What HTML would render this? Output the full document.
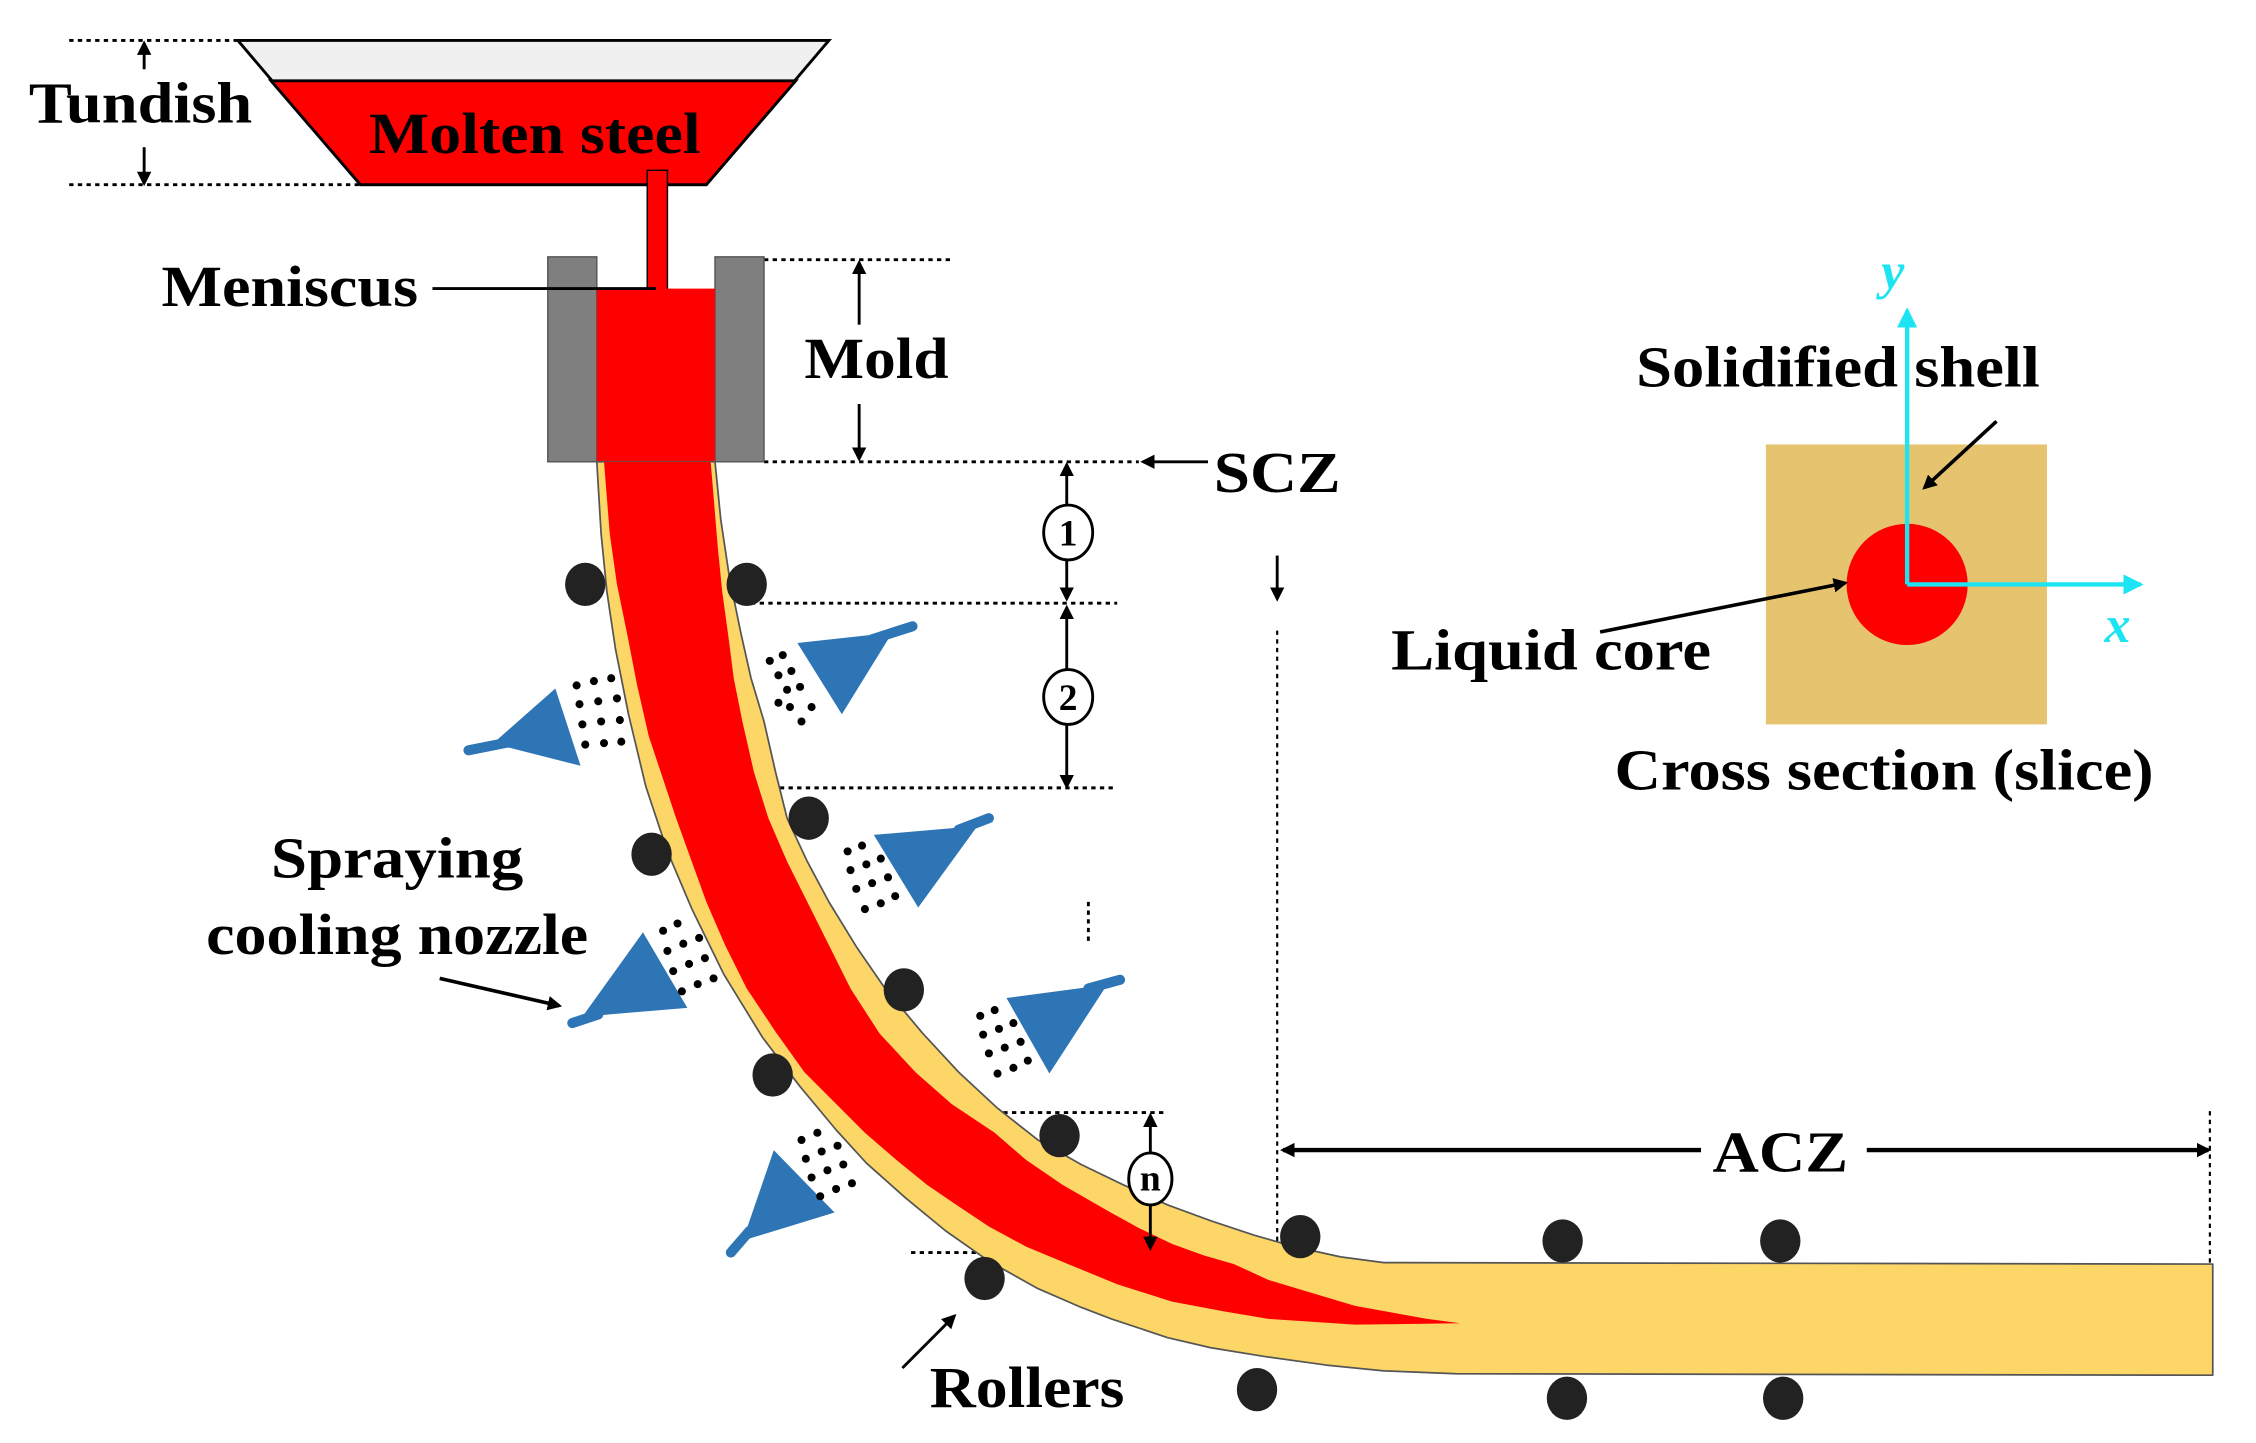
<!DOCTYPE html>
<html><head><meta charset="utf-8"><style>html,body{margin:0;padding:0;background:#fff}svg{display:block}text{font-family:"Liberation Serif",serif;font-weight:bold;fill:#000}</style></head>
<body>
<svg width="2256" height="1443" viewBox="0 0 1565 1000" preserveAspectRatio="none" xmlns="http://www.w3.org/2000/svg">
<defs>
<marker id="ah" markerWidth="10" markerHeight="10" refX="8" refY="5" orient="auto" markerUnits="userSpaceOnUse"><path d="M0,0 L10,5 L0,10 z" fill="#000"/></marker>
<marker id="ac" markerWidth="14" markerHeight="14" refX="12" refY="7" orient="auto" markerUnits="userSpaceOnUse"><path d="M0,0 L14,7 L0,14 z" fill="#1de4f2"/></marker>
</defs>
<g stroke="#000" stroke-width="2" stroke-dasharray="3,3" fill="none">
<line x1="48" y1="28" x2="165" y2="28"/><line x1="48" y1="128" x2="250" y2="128"/>
<line x1="530" y1="180" x2="660" y2="180"/><line x1="530" y1="320" x2="790" y2="320"/>
<line x1="515" y1="418" x2="775" y2="418"/><line x1="535" y1="546" x2="772" y2="546"/>
<line x1="690" y1="771" x2="808" y2="771"/><line x1="632" y1="868" x2="890" y2="868"/>
<line x1="886" y1="437" x2="886" y2="870" stroke-width="1.5"/>
<line x1="1533" y1="770" x2="1533" y2="875" stroke-width="1.5"/>
<line x1="755" y1="625" x2="755" y2="652" stroke-width="2"/>
</g>
<polygon points="165,28 575,28 490,128 250,128" fill="#f0f0f0" stroke="#000" stroke-width="2"/>
<polygon points="188,56 552,56 490,128 250,128" fill="#f00" stroke="#000" stroke-width="2"/>
<rect x="449" y="118" width="14" height="85" fill="#f00" stroke="#000" stroke-width="1"/>
<rect x="380" y="178" width="34" height="142" fill="#7f7f7f" stroke="#555" stroke-width="1"/>
<rect x="496" y="178" width="34" height="142" fill="#7f7f7f" stroke="#555" stroke-width="1"/>
<rect x="414" y="200" width="82" height="120" fill="#f00"/>
<!-- strand -->
<polygon points="414,320 417,370 421,410 427,450 436,495 448,545 463,590 480,630 502,675 529,719 555,753 580,783 601,806 628,830 656,853 686,874 720,893 750,906 771,914 810,927 840,934 877,940 920,946 960,950 1010,952 1535,953 1535,876 960,875 930,871 898,864 870,856 840,846 810,835 779,821 750,807 720,790 692,768 665,743 640,716 614,685 594,656 575,625 560,597 546,567 538,535 530,500 521,470 514,439 506,400 500,360 496,320" fill="#fcd667" stroke="#555" stroke-width="1.2" stroke-linejoin="round"/>
<polygon points="419,320 423,370 428,405 435,439 442,475 450,510 469,567 490,625 503,655 518,685 538,715 558,743 580,765 600,785 622,804 643,821 665,836 686,850 712,864 741,876 775,890 813,902 850,909 880,914 940,918 1013,917 990,914 940,905 900,893 880,887 856,876 835,870 813,862 790,851 770,840 737,821 712,804 690,785 660,765 635,743 610,716 590,685 575,655 560,625 546,597 533,567 523,535 515,500 509,470 505,439 501,410 498,380 493,320" fill="#f00"/>
<!-- rollers -->
<g fill="#222">
<ellipse cx="406" cy="405" rx="14" ry="15"/><ellipse cx="518" cy="405" rx="14" ry="15"/>
<ellipse cx="452" cy="592" rx="14" ry="15"/><ellipse cx="561" cy="567" rx="14" ry="15"/>
<ellipse cx="627" cy="686" rx="14" ry="15"/><ellipse cx="536" cy="745" rx="14" ry="15"/>
<ellipse cx="735" cy="787" rx="14" ry="15"/><ellipse cx="683" cy="886" rx="14" ry="15"/>
<ellipse cx="902" cy="857" rx="14" ry="15"/><ellipse cx="1084" cy="860" rx="14" ry="15"/>
<ellipse cx="1235" cy="860" rx="14" ry="15"/><ellipse cx="872" cy="963" rx="14" ry="15"/>
<ellipse cx="1087" cy="969" rx="14" ry="15"/><ellipse cx="1237" cy="969" rx="14" ry="15"/>
</g>
<!-- nozzles -->
<g fill="#2e75b6" stroke="#2e75b6" stroke-width="7" stroke-linecap="round">
<polygon points="554,446 618,439 584,494" stroke-width="1"/><line x1="605" y1="443" x2="633" y2="434"/>
<polygon points="385,478 402,530 343,515" stroke-width="1"/><line x1="355" y1="514" x2="325" y2="520"/>
<polygon points="607,579 677,573 637,628" stroke-width="1"/><line x1="665" y1="575" x2="686" y2="567"/>
<polygon points="699,692 767,683 728,743" stroke-width="1"/><line x1="755" y1="685" x2="777" y2="679"/>
<polygon points="446,647 476,698 405,704" stroke-width="1"/><line x1="415" y1="703" x2="397" y2="709"/>
<polygon points="537,798 578,840 516,859" stroke-width="1"/><line x1="520" y1="853" x2="507" y2="868"/>
</g>
<g fill="#000">
<circle cx="534" cy="458" r="2.8"/><circle cx="540" cy="468" r="2.8"/><circle cx="546" cy="478" r="2.8"/>
<circle cx="543" cy="454" r="2.8"/><circle cx="549" cy="465" r="2.8"/><circle cx="555" cy="476" r="2.8"/>
<circle cx="540" cy="487" r="2.8"/><circle cx="548" cy="490" r="2.8"/><circle cx="556" cy="500" r="2.8"/><circle cx="563" cy="490" r="2.8"/>
<circle cx="400" cy="475" r="2.8"/><circle cx="412" cy="472" r="2.8"/><circle cx="424" cy="470" r="2.8"/>
<circle cx="402" cy="488" r="2.8"/><circle cx="415" cy="486" r="2.8"/><circle cx="428" cy="484" r="2.8"/>
<circle cx="404" cy="502" r="2.8"/><circle cx="417" cy="500" r="2.8"/><circle cx="430" cy="499" r="2.8"/>
<circle cx="406" cy="516" r="2.8"/><circle cx="419" cy="515" r="2.8"/><circle cx="431" cy="514" r="2.8"/>
<circle cx="588" cy="590" r="2.8"/><circle cx="598" cy="586" r="2.8"/>
<circle cx="590" cy="603" r="2.8"/><circle cx="601" cy="599" r="2.8"/><circle cx="611" cy="595" r="2.8"/>
<circle cx="594" cy="616" r="2.8"/><circle cx="605" cy="612" r="2.8"/><circle cx="616" cy="608" r="2.8"/>
<circle cx="600" cy="630" r="2.8"/><circle cx="611" cy="626" r="2.8"/><circle cx="621" cy="621" r="2.8"/>
<circle cx="680" cy="704" r="2.8"/><circle cx="690" cy="700" r="2.8"/>
<circle cx="682" cy="717" r="2.8"/><circle cx="693" cy="713" r="2.8"/><circle cx="703" cy="709" r="2.8"/>
<circle cx="686" cy="730" r="2.8"/><circle cx="697" cy="726" r="2.8"/><circle cx="708" cy="722" r="2.8"/>
<circle cx="692" cy="744" r="2.8"/><circle cx="703" cy="740" r="2.8"/><circle cx="713" cy="735" r="2.8"/>
<circle cx="460" cy="645" r="2.8"/><circle cx="470" cy="640" r="2.8"/>
<circle cx="463" cy="659" r="2.8"/><circle cx="474" cy="654" r="2.8"/><circle cx="485" cy="650" r="2.8"/>
<circle cx="467" cy="673" r="2.8"/><circle cx="478" cy="668" r="2.8"/><circle cx="489" cy="664" r="2.8"/>
<circle cx="473" cy="687" r="2.8"/><circle cx="484" cy="682" r="2.8"/><circle cx="495" cy="678" r="2.8"/>
<circle cx="556" cy="790" r="2.8"/><circle cx="567" cy="785" r="2.8"/>
<circle cx="559" cy="803" r="2.8"/><circle cx="570" cy="798" r="2.8"/><circle cx="581" cy="794" r="2.8"/>
<circle cx="563" cy="816" r="2.8"/><circle cx="574" cy="811" r="2.8"/><circle cx="585" cy="807" r="2.8"/>
<circle cx="569" cy="829" r="2.8"/><circle cx="580" cy="824" r="2.8"/><circle cx="591" cy="820" r="2.8"/>
</g>
<!-- cross section -->
<rect x="1225" y="308" width="195" height="194" fill="#e6c36e"/>
<circle cx="1323" cy="405" r="42" fill="#f00"/>
<g stroke="#1de4f2" stroke-width="3" fill="none" marker-end="url(#ac)">
<line x1="1323" y1="405" x2="1323" y2="215"/><line x1="1323" y1="405" x2="1485" y2="405"/>
</g>
<text x="1305" y="200" font-size="36" font-style="italic" style="fill:#1de4f2">y</text>
<text x="1460" y="445" font-size="36" font-style="italic" style="fill:#1de4f2">x</text>
<g stroke="#000" stroke-width="2" fill="none" marker-end="url(#ah)">
<line x1="100" y1="48" x2="100" y2="30"/><line x1="100" y1="102" x2="100" y2="127"/>
<line x1="596" y1="225" x2="596" y2="182"/><line x1="596" y1="280" x2="596" y2="318"/>
<line x1="740" y1="350" x2="740" y2="322"/><line x1="740" y1="387" x2="740" y2="415"/>
<line x1="740" y1="464" x2="740" y2="421"/><line x1="740" y1="501" x2="740" y2="545"/>
<line x1="798" y1="800" x2="798" y2="773"/><line x1="798" y1="834" x2="798" y2="865"/>
<line x1="838" y1="320" x2="793" y2="320"/><line x1="886" y1="385" x2="886" y2="415"/>
<line x1="1180" y1="797" x2="890" y2="797" stroke-width="3"/><line x1="1295" y1="797" x2="1532" y2="797" stroke-width="3"/>
<line x1="626" y1="948" x2="662" y2="912"/><line x1="305" y1="678" x2="388" y2="697" stroke-width="2.5"/>
<line x1="1385" y1="292" x2="1335" y2="338" stroke-width="2.5"/><line x1="1110" y1="438" x2="1280" y2="404" stroke-width="2.5"/>
</g>
<line x1="300" y1="200" x2="455" y2="200" stroke="#000" stroke-width="2"/>
<g fill="#fff" stroke="#000" stroke-width="2">
<ellipse cx="741" cy="369" rx="17" ry="19"/><ellipse cx="741" cy="483" rx="17" ry="19"/><ellipse cx="798" cy="817" rx="15" ry="18"/>
</g>
<g font-size="26" text-anchor="middle">
<text x="741" y="378" font-weight="normal">1</text><text x="741" y="492" font-weight="normal">2</text><text x="798" y="825" font-weight="normal">n</text>
</g>
<g font-size="40">
<text x="20" y="85" textLength="155" lengthAdjust="spacingAndGlyphs">Tundish</text>
<text x="256" y="106" textLength="230" lengthAdjust="spacingAndGlyphs">Molten steel</text>
<text x="112" y="212" textLength="178" lengthAdjust="spacingAndGlyphs">Meniscus</text>
<text x="558" y="262" textLength="100" lengthAdjust="spacingAndGlyphs">Mold</text>
<text x="842" y="341" textLength="88" lengthAdjust="spacingAndGlyphs">SCZ</text>
<text x="1188" y="812" textLength="94" lengthAdjust="spacingAndGlyphs">ACZ</text>
<text x="188" y="608" textLength="175" lengthAdjust="spacingAndGlyphs">Spraying</text>
<text x="143" y="661" textLength="265" lengthAdjust="spacingAndGlyphs">cooling nozzle</text>
<text x="645" y="975" textLength="135" lengthAdjust="spacingAndGlyphs">Rollers</text>
<text x="1135" y="268" textLength="280" lengthAdjust="spacingAndGlyphs">Solidified shell</text>
<text x="965" y="464" textLength="222" lengthAdjust="spacingAndGlyphs">Liquid core</text>
<text x="1120" y="547" textLength="374" lengthAdjust="spacingAndGlyphs">Cross section (slice)</text>
</g>
</svg>
</body></html>
